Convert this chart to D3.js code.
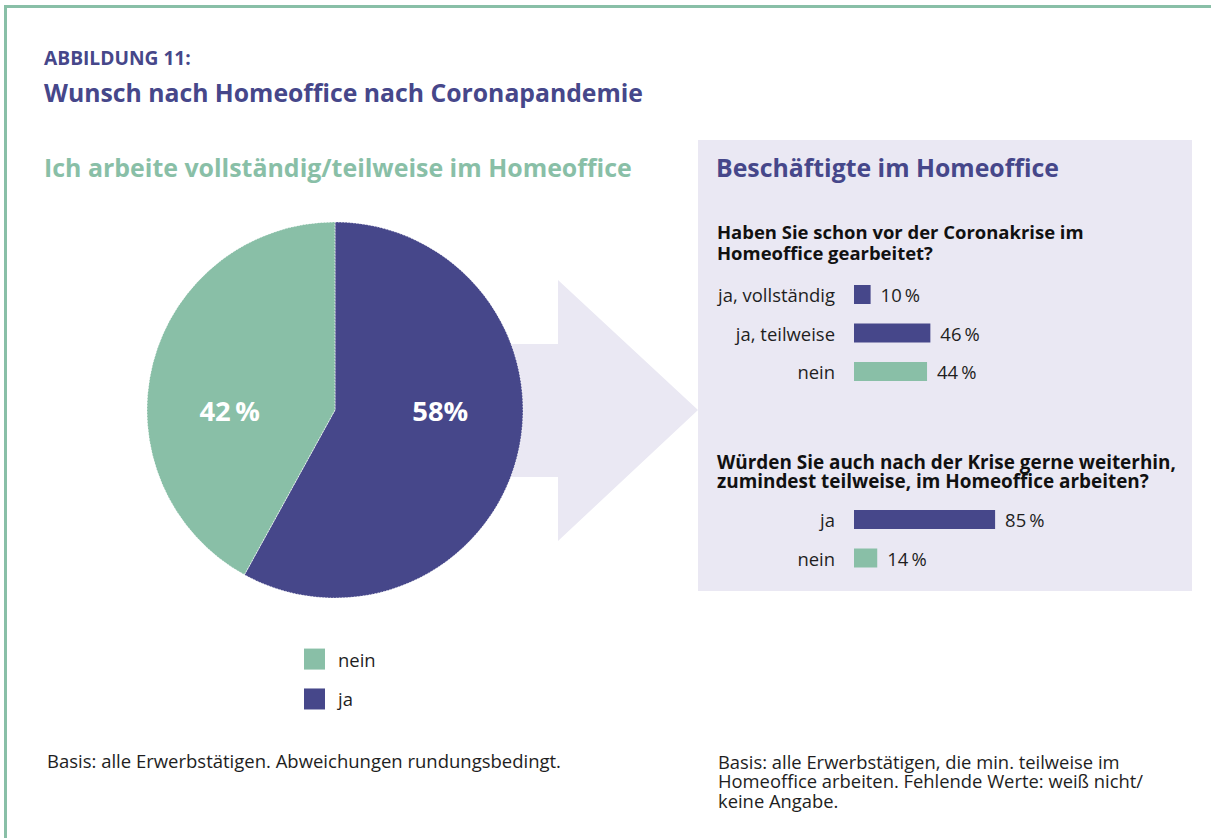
<!DOCTYPE html>
<html>
<head>
<meta charset="utf-8">
<script src="https://cdn.jsdelivr.net/npm/d3@7"></script>
<style>
  html, body { margin: 0; padding: 0; background: #fff; }
  svg { display: block; font-family: "Open Sans", "Noto Sans", sans-serif; }
</style>
</head>
<body>
<svg id="chart" width="1211" height="838"></svg>
<script>
// ---- data ----
const pieCategories = ["ja", "nein"];
const pieValues = [58, 42];
const pieLabels = ["58%", "42\u2009%"];

const legendCategories = ["nein", "ja"];

const q1Categories = ["ja, vollständig", "ja, teilweise", "nein"];
const q1Values = [10, 46, 44];
const q1Labels = ["10\u2009%", "46\u2009%", "44\u2009%"];

const q2Categories = ["ja", "nein"];
const q2Values = [85, 14];
const q2Labels = ["85\u2009%", "14\u2009%"];

// ---- style ----
const PURPLE = "#46478a";
const GREEN = "#89bfa7";
const LAVENDER = "#eae8f3";
const TEXT = "#1e1e1e";
const colorOf = c => (c === "nein" ? GREEN : PURPLE);

const svg = d3.select("#chart");

function fitText(sel, target) {
  const node = sel.node();
  const w = node.getComputedTextLength();
  const fs = parseFloat(sel.attr("font-size"));
  sel.attr("font-size", (fs * target / w).toFixed(2));
  return sel;
}

// measure label font size so "ja, vollständig" is ~117px wide
const probe = svg.append("text").attr("font-size", 16).text("ja, vollständig");
const LABEL_FS = +(16 * 117 / probe.node().getComputedTextLength()).toFixed(2);
probe.remove();

// frame (top + left lines)
svg.append("rect").attr("x", 4).attr("y", 5).attr("width", 1207).attr("height", 3).attr("fill", GREEN);
svg.append("rect").attr("x", 4).attr("y", 5).attr("width", 3).attr("height", 833).attr("fill", GREEN);

// titles
fitText(svg.append("text").attr("x", 44).attr("y", 57).attr("dominant-baseline", "central")
  .attr("font-size", 15).attr("font-weight", 700).attr("fill", PURPLE).text("ABBILDUNG 11:"), 147);
fitText(svg.append("text").attr("x", 44).attr("y", 92).attr("dominant-baseline", "central")
  .attr("font-size", 24).attr("font-weight", 700).attr("fill", PURPLE)
  .text("Wunsch nach Homeoffice nach Coronapandemie"), 599);
fitText(svg.append("text").attr("x", 44).attr("y", 167).attr("dominant-baseline", "central")
  .attr("font-size", 22).attr("font-weight", 700).attr("fill", GREEN)
  .text("Ich arbeite vollständig/teilweise im Homeoffice"), 588);

// arrow (behind pie)
svg.append("path")
  .attr("d", "M505,344 L558,344 L558,280 L698,410 L558,541 L558,477 L505,477 Z")
  .attr("fill", LAVENDER);

// right panel
svg.append("rect").attr("x", 698).attr("y", 140).attr("width", 494).attr("height", 451).attr("fill", LAVENDER);

// pie
const cx = 335, cy = 410, R = 188;
const pie = d3.pie().sort(null).value(d => d.value).startAngle(0).endAngle(2 * Math.PI);
const arcs = pie(pieCategories.map((c, i) => ({ cat: c, value: pieValues[i], label: pieLabels[i] })));
const arc = d3.arc().innerRadius(0).outerRadius(R);
const gPie = svg.append("g").attr("transform", `translate(${cx},${cy})`);
gPie.selectAll("path.slice").data(arcs).join("path")
  .attr("class", "slice")
  .attr("d", arc)
  .attr("fill", d => colorOf(d.data.cat))
  .attr("stroke", "#ffffff").attr("stroke-width", 0.8).attr("stroke-dasharray", "1.5,1.5");
const pl = gPie.selectAll("text.plabel").data(arcs).join("text")
  .attr("class", "plabel")
  .attr("x", d => Math.sign(arc.centroid(d)[0]) * R * 0.56)
  .attr("y", 0)
  .attr("text-anchor", "middle").attr("dominant-baseline", "central")
  .attr("font-size", 22).attr("font-weight", 700).attr("fill", "#fff")
  .text(d => d.data.label);
// size pie labels so "58%" spans about 56px
{
  const w = pl.filter(d => d.data.cat === "ja").node().getComputedTextLength();
  pl.attr("font-size", (22 * 56 / w).toFixed(2));
}

// legend
const gLeg = svg.append("g");
const legY = d3.scaleBand().domain(legendCategories).range([639, 719]).paddingInner(0.475).paddingOuter(0.24);
gLeg.selectAll("rect").data(legendCategories).join("rect")
  .attr("x", 304).attr("y", d => legY(d)).attr("width", 21).attr("height", 21)
  .attr("fill", d => colorOf(d));
gLeg.selectAll("text").data(legendCategories).join("text")
  .attr("x", 338).attr("y", d => legY(d) + 10.5).attr("dominant-baseline", "central")
  .attr("font-size", LABEL_FS).attr("fill", TEXT).text(d => d);

// panel texts
fitText(svg.append("text").attr("x", 716).attr("y", 167).attr("dominant-baseline", "central")
  .attr("font-size", 22).attr("font-weight", 700).attr("fill", PURPLE)
  .text("Beschäftigte im Homeoffice"), 343);

function question(lines, y0, lh, firstWidth) {
  const t = svg.append("text").attr("font-size", 16).attr("font-weight", 700).attr("fill", "#111");
  lines.forEach((l, i) => {
    t.append("tspan").attr("x", 717).attr("y", y0 + i * lh).attr("dominant-baseline", "central").text(l);
  });
  const first = t.select("tspan").node().getComputedTextLength();
  t.attr("font-size", (16 * firstWidth / first).toFixed(2));
}
question(["Haben Sie schon vor der Coronakrise im", "Homeoffice gearbeitet?"], 231, 21, 367);
question(["Würden Sie auch nach der Krise gerne weiterhin,", "zumindest teilweise, im Homeoffice arbeiten?"], 462, 19, 459);

const x = d3.scaleLinear().domain([0, 100]).range([854, 1020]);

function barGroup(cats, vals, labels, top) {
  const y = d3.scaleBand().domain(cats).range([top, top + cats.length * 38.5])
    .paddingInner(0.5065).paddingOuter(0.2532);
  const g = svg.append("g");
  const rows = cats.map((c, i) => ({ cat: c, value: vals[i], label: labels[i] }));
  g.selectAll("rect").data(rows).join("rect")
    .attr("x", x(0)).attr("y", d => y(d.cat))
    .attr("width", d => x(d.value) - x(0)).attr("height", y.bandwidth())
    .attr("fill", d => colorOf(d.cat));
  g.selectAll("text.cat").data(rows).join("text").attr("class", "cat")
    .attr("x", 835).attr("y", d => y(d.cat) + y.bandwidth() / 2)
    .attr("text-anchor", "end").attr("dominant-baseline", "central")
    .attr("font-size", LABEL_FS).attr("fill", TEXT).text(d => d.cat);
  g.selectAll("text.val").data(rows).join("text").attr("class", "val")
    .attr("x", d => x(d.value) + 10).attr("y", d => y(d.cat) + y.bandwidth() / 2)
    .attr("dominant-baseline", "central")
    .attr("font-size", LABEL_FS).attr("fill", TEXT).text(d => d.label);
}
barGroup(q1Categories, q1Values, q1Labels, 275.25);
barGroup(q2Categories, q2Values, q2Labels, 500.25);

// footers
fitText(svg.append("text").attr("x", 47).attr("y", 760).attr("dominant-baseline", "central")
  .attr("font-size", 15).attr("fill", TEXT)
  .text("Basis: alle Erwerbstätigen. Abweichungen rundungsbedingt."), 514);

const f2 = svg.append("text").attr("font-size", 15).attr("fill", TEXT);
["Basis: alle Erwerbstätigen, die min. teilweise im",
 "Homeoffice arbeiten. Fehlende Werte: weiß nicht/",
 "keine Angabe."].forEach((l, i) => {
  f2.append("tspan").attr("x", 718).attr("y", 761 + i * 19.5).attr("dominant-baseline", "central").text(l);
});
{
  const w = f2.select("tspan").node().getComputedTextLength();
  f2.attr("font-size", (15 * 402 / w).toFixed(2));
}
</script>
</body>
</html>
